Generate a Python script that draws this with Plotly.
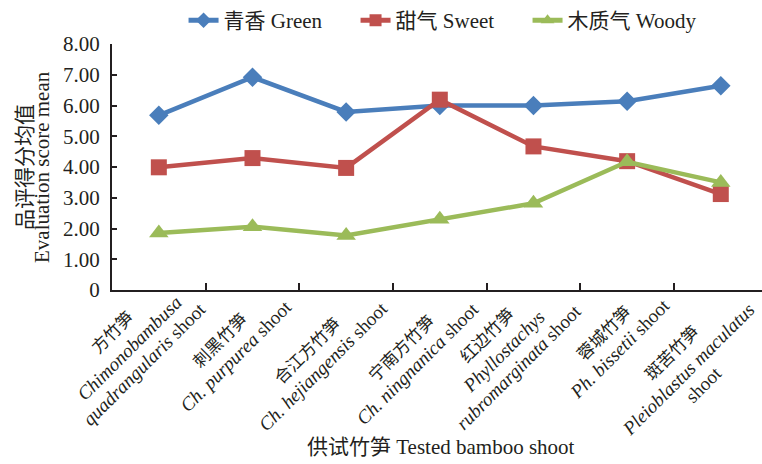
import plotly.graph_objects as go

# ---- data ----
categories = ['方竹笋', '刺黑竹笋', '合江方竹笋', '宁南方竹笋', '红边竹笋', '蓉城竹笋', '斑苦竹笋']
latin_lines = [
    ['<i>Chimonobambusa</i>', '<i>quadrangularis</i> shoot'],
    ['<i>Ch. purpurea</i> shoot'],
    ['<i>Ch. hejiangensis</i> shoot'],
    ['<i>Ch. ningnanica</i> shoot'],
    ['<i>Phyllostachys</i>', '<i>rubromarginata</i> shoot'],
    ['<i>Ph. bissetii</i> shoot'],
    ['<i>Pleioblastus maculatus</i>', 'shoot'],
]
green = [5.68, 6.92, 5.79, 6.00, 6.00, 6.14, 6.64]
sweet = [3.99, 4.29, 3.97, 6.19, 4.67, 4.19, 3.12]
woody = [1.85, 2.06, 1.77, 2.30, 2.82, 4.17, 3.50]
series_names = ['青香 Green', '甜气 Sweet', '木质气 Woody']
y_tick_vals = [0, 1, 2, 3, 4, 5, 6, 7, 8]
y_tick_text = ['0', '1.00', '2.00', '3.00', '4.00', '5.00', '6.00', '7.00', '8.00']
x_title = '供试竹笋 Tested bamboo shoot'
y_title_lines = ['品评得分均值', 'Evaluation score mean']

# ---- style ----
FONT = 'Liberation Serif, Noto Sans CJK SC, serif'
TXT = '#231f20'
colors = ['#4A7EBB', '#C0504D', '#9BBB59']
symbols = ['diamond', 'square', 'triangle-up']
msizes = [15, 16, 17]
# label block centre offsets (px right, px down) from category point on axis
label_offsets = [(-30, 58), (-24, 58), (-31, 69), (-30, 66), (-30, 61), (-15, 51), (-33, 79)]
line_step = 22.6

fig = go.Figure()
for vals, name, c, s, ms in zip([green, sweet, woody], series_names, colors, symbols, msizes):
    fig.add_trace(go.Scatter(
        x=categories, y=vals, name=name, mode='lines+markers',
        line=dict(color=c, width=4.5),
        marker=dict(color=c, symbol=s, size=ms),
    ))

annotations = []
for k, (cat, lat) in enumerate(zip(categories, latin_lines)):
    lines = [cat] + lat
    n = len(lines)
    dx, dy = label_offsets[k]
    for j, txt in enumerate(lines):
        t = (j - (n - 1) / 2) * line_step * 0.7071
        annotations.append(dict(
            xref='x', yref='y', x=k, y=0, text=txt, showarrow=False,
            textangle=-45, xanchor='center', yanchor='middle',
            xshift=dx + t, yshift=-(dy + t),
            font=dict(family=FONT, size=17 if j == 0 else 19, color=TXT)))

annotations.append(dict(xref='paper', yref='paper', x=0.5, y=0, text=x_title,
                        showarrow=False, xanchor='center', yanchor='middle',
                        xshift=4, yshift=-157,
                        font=dict(family=FONT, size=21, color=TXT)))
for xs, txt in zip([-87, -70], y_title_lines):
    annotations.append(dict(xref='paper', yref='paper', x=0, y=0.5, text=txt,
                            showarrow=False, textangle=-90, xanchor='center',
                            yanchor='middle', xshift=xs,
                            font=dict(family=FONT, size=21, color=TXT)))

fig.update_layout(
    width=762, height=464,
    margin=dict(l=112, r=0, t=41, b=174),
    plot_bgcolor='white', paper_bgcolor='white',
    font=dict(family=FONT, size=21, color=TXT),
    showlegend=True,
    legend=dict(orientation='h', x=0.507, xanchor='center', y=1.095, yanchor='middle',
                entrywidth=127, itemsizing='constant',
                font=dict(family=FONT, size=21, color=TXT), bgcolor='rgba(0,0,0,0)'),
    annotations=annotations,
)
fig.update_xaxes(type='category', range=[-0.5, 6.44], showline=True, linewidth=2,
                 linecolor=TXT, ticks='inside', ticklen=7, tickwidth=1.5, tickcolor=TXT,
                 tickson='boundaries', showticklabels=False, showgrid=False, zeroline=False)
fig.update_yaxes(range=[0, 8], tickmode='array', tickvals=y_tick_vals, ticktext=y_tick_text,
                 showline=True, linewidth=2, linecolor=TXT, ticks='inside', ticklen=5,
                 tickwidth=1.5, tickcolor=TXT, ticklabelstandoff=6, showgrid=False,
                 zeroline=False, tickfont=dict(family=FONT, size=21, color=TXT))

fig.write_html('out.html', config={'displayModeBar': False},
               post_script="document.body.style.margin='0';document.body.style.overflow='hidden';")
